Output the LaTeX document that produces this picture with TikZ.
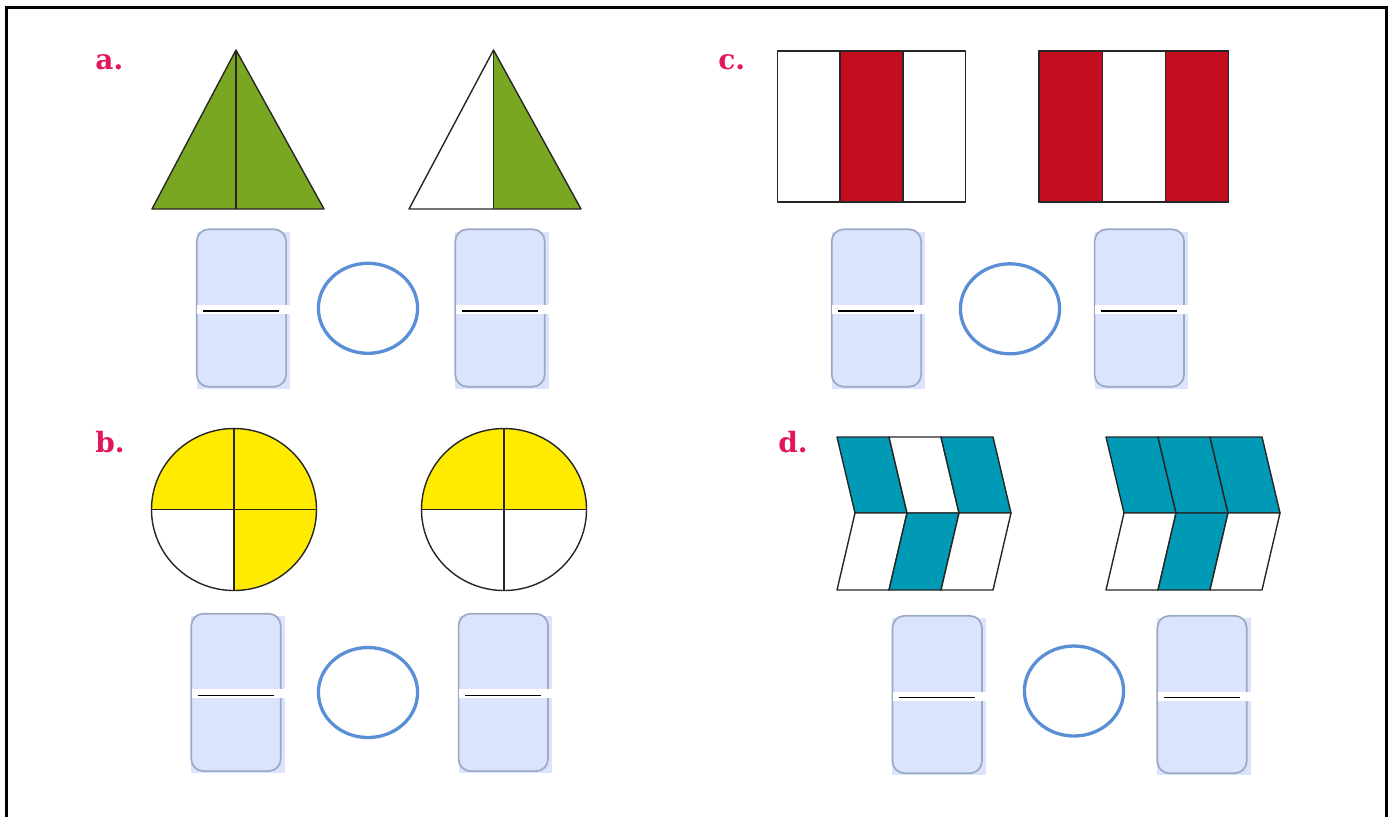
\documentclass[tikz,border=0pt]{standalone}
\usepackage{fontspec}
\newfontfamily\slabfont{DejaVu Serif}
\usepackage{xcolor}
\usetikzlibrary{shapes.geometric}

\definecolor{tagpink}{HTML}{E2165E}
\definecolor{leafgreen}{HTML}{7AA722}
\definecolor{sunyellow}{HTML}{FFEB00}
\definecolor{flagred}{HTML}{C40E20}
\definecolor{chevteal}{HTML}{0099B6}
\definecolor{boxfill}{HTML}{DCE3FD}
\definecolor{boxedge}{HTML}{9AAAC2}
\definecolor{ringblue}{HTML}{5A8ED6}

\tikzset{
  part/.style={draw=black!85,line width=0.7pt,line join=round},
  tag/.style={text=tagpink,font=\slabfont\bfseries\fontsize{14}{14}\selectfont,anchor=base west,inner sep=0pt},
  cmp/.style={draw=ringblue,line width=1.65pt,ellipse,minimum width=49.6pt,minimum height=45pt,inner sep=0pt},
  ansbox/.style={draw=boxedge,fill=boxfill,rounded corners=6pt,line width=0.85pt,minimum width=44.7pt,minimum height=78.7pt,inner sep=0pt}
}

% answer box: name, position
\newcommand{\answer}[2]{%
  \coordinate (#1c) at (#2);
  \fill[boxfill] ([shift={(-22.4pt,-40.3pt)}]#1c) rectangle ([shift={(24.5pt,38.1pt)}]#1c);
  \node[ansbox] (#1) at (#1c) {};
  \fill[white] ([shift={(-22pt,1.5pt)}]#1c) rectangle ([shift={(24.5pt,-3pt)}]#1c);
  \draw[line width=0.8pt] ([shift={(-19pt,-1.5pt)}]#1c) -- ([shift={(19pt,-1.5pt)}]#1c);
}

\begin{document}
\begin{tikzpicture}[x=0.5pt,y=-0.5pt]
\useasboundingbox (0,0) rectangle (1390,816);
\clip (0,0) rectangle (1390,816);
\draw[line width=1.5pt] (6.5,7.5) rectangle (1386,840);

% labels
\node[tag] (ta) at (95,69.5) {a.};
\node[tag] (tb) at (95,452) {b.};
\node[tag] (tc) at (718,69.5) {c.};
\node[tag] (td) at (778,452) {d.};

% a. triangles
\fill[leafgreen] (152,209)--(236,50)--(324,209)--cycle;
\draw[part] (152,209)--(236,50)--(324,209)--cycle;
\draw[part] (236,50)--(236,209);
\fill[leafgreen] (493.5,50)--(581,209)--(493.5,209)--cycle;
\draw[part] (409,209)--(493.5,50)--(581,209)--cycle;
\draw[part] (493.5,50)--(493.5,209);

% b. circles
\fill[sunyellow] (151.5,509.5) arc[start angle=180,end angle=360,x radius=82.5,y radius=81]--cycle;
\fill[sunyellow] (234,509.5)--(316.5,509.5) arc[start angle=0,end angle=90,x radius=82.5,y radius=81]--cycle;
\draw[part] (234,509.5) ellipse[x radius=82.5,y radius=81];
\draw[part] (151.5,509.5)--(316.5,509.5) (234,428.5)--(234,590.5);
\fill[sunyellow] (421.5,509.5) arc[start angle=180,end angle=360,x radius=82.5,y radius=81]--cycle;
\draw[part] (504,509.5) ellipse[x radius=82.5,y radius=81];
\draw[part] (421.5,509.5)--(586.5,509.5) (504,428.5)--(504,590.5);

% c. strips
\filldraw[part,fill=flagred] (840,51) rectangle (903,202);
\draw[part] (777.5,51) rectangle (965.5,202);
\filldraw[part,fill=flagred] (1039,51) rectangle (1102.5,202);
\filldraw[part,fill=flagred] (1165.5,51) rectangle (1228.5,202);
\draw[part] (1039,51) rectangle (1228.5,202);

% d. chevrons
\foreach \i/\ct/\cb in {0/chevteal/white,1/white/chevteal,2/chevteal/white}{
  \filldraw[part,fill=\ct] (837+52*\i,437)--(889+52*\i,437)--(907+52*\i,513)--(855+52*\i,513)--cycle;
  \filldraw[part,fill=\cb] (855+52*\i,513)--(907+52*\i,513)--(889+52*\i,590)--(837+52*\i,590)--cycle;
}
\foreach \i/\ct/\cb in {0/chevteal/white,1/chevteal/chevteal,2/chevteal/white}{
  \filldraw[part,fill=\ct] (1106+52*\i,437)--(1158+52*\i,437)--(1176+52*\i,513)--(1124+52*\i,513)--cycle;
  \filldraw[part,fill=\cb] (1124+52*\i,513)--(1176+52*\i,513)--(1158+52*\i,590)--(1106+52*\i,590)--cycle;
}

% answer boxes and comparison rings
\answer{a1}{241.4,308}
\answer{a2}{500,308}
\node[cmp] (ra) at (368,308.3) {};
\answer{b1}{236,692.4}
\answer{b2}{503.3,692.4}
\node[cmp] (rb) at (368,692.5) {};
\answer{c1}{876.4,308}
\answer{c2}{1139.3,308}
\node[cmp] (rc) at (1010,308.8) {};
\answer{d1}{937.2,694.5}
\answer{d2}{1202,694.5}
\node[cmp] (rd) at (1074,691) {};
\end{tikzpicture}
\end{document}
